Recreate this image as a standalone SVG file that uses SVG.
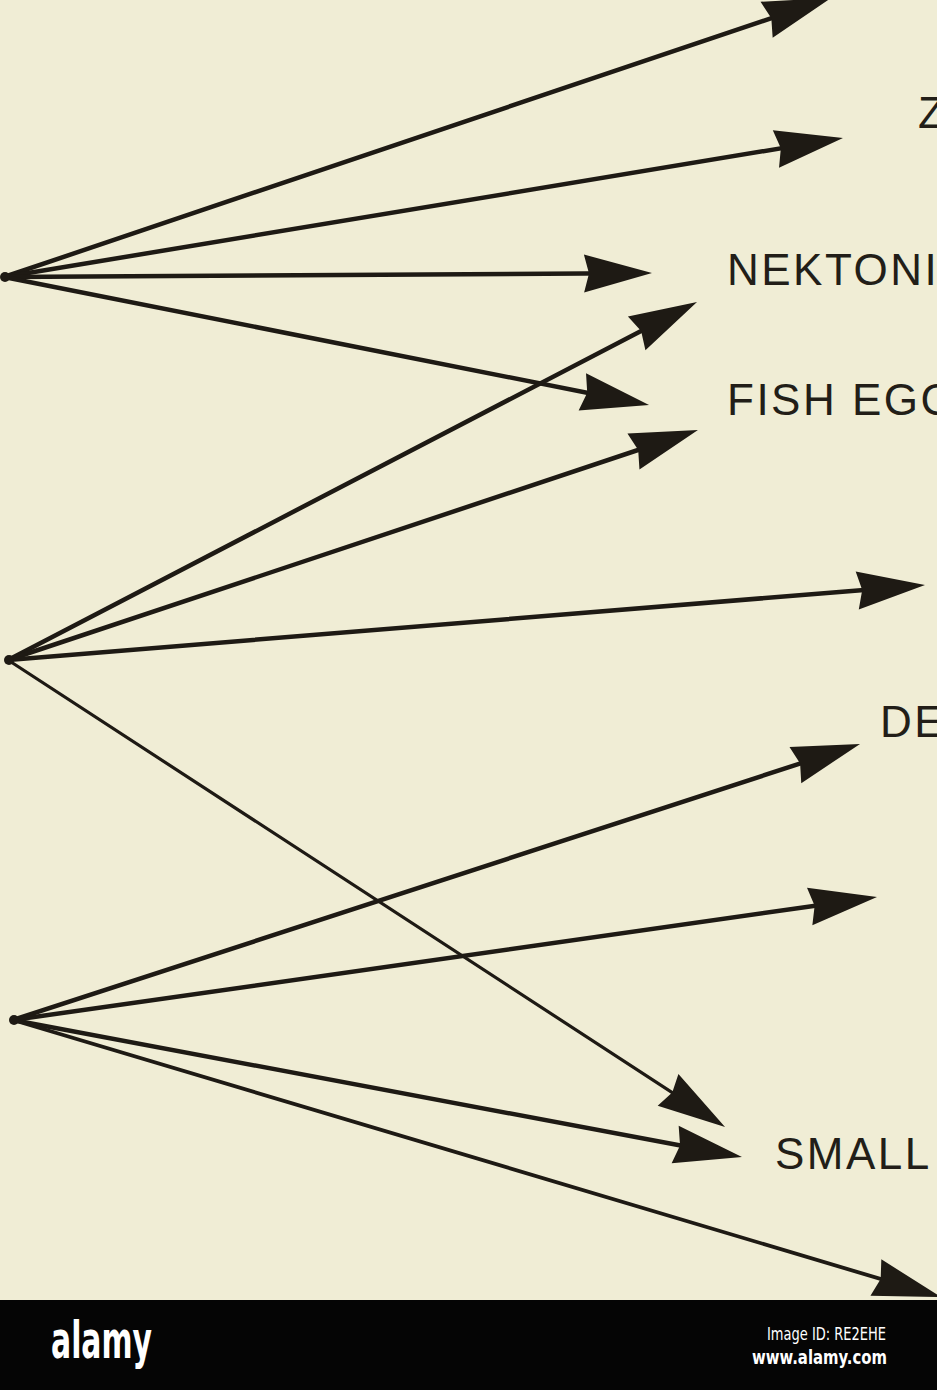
<svg xmlns="http://www.w3.org/2000/svg" width="937" height="1390" viewBox="0 0 937 1390">
  <style>
    .bg { fill: #f0edd5; }
    .edge { stroke: #1e1a14; stroke-width: 4.5; stroke-linecap: round; fill: none; marker-end: url(#head); }
    .thin { stroke-width: 3.2; }
    .lbl { font-family: "Liberation Sans", Arial, sans-serif; font-size: 44px; letter-spacing: 2.5px; fill: #221e18; }
    .src { fill: #1e1a14; }
    .bar { fill: #050505; }
    .logo { font-family: "DejaVu Sans Condensed", "DejaVu Sans", sans-serif; font-weight: bold; fill: #ffffff; }
    .meta { font-family: "DejaVu Sans Condensed", "DejaVu Sans", sans-serif; fill: #ffffff; }
  </style>
  <defs>
    <marker id="head" markerUnits="userSpaceOnUse" viewBox="-40 -22 72 44" refX="0" refY="0" markerWidth="72" markerHeight="44" orient="auto">
      <path d="M30,0 L-38,-19 L-33,0 L-38,19 Z" fill="#1e1a14"/>
    </marker>
  </defs>
  <rect class="bg" x="0" y="0" width="937" height="1390"/>

  <g id="connectors">
    <line class="edge" x1="4" y1="277" x2="802.6" y2="7.6"/>
    <line class="edge" x1="4" y1="277" x2="813.4" y2="142.9"/>
    <line class="edge" x1="4" y1="277" x2="622" y2="273.2"/>
    <line class="edge" x1="4" y1="277" x2="619.6" y2="399.2"/>
    <line class="edge" x1="8" y1="660" x2="670.4" y2="315.8"/>
    <line class="edge" x1="8" y1="660" x2="669.5" y2="439.5"/>
    <line class="edge" x1="8" y1="660" x2="895.1" y2="587.4"/>
    <line class="edge thin" x1="8" y1="660" x2="699.9" y2="1110.6"/>
    <line class="edge" x1="13" y1="1020" x2="831.5" y2="753.3"/>
    <line class="edge" x1="13" y1="1020" x2="847.3" y2="901.2"/>
    <line class="edge" x1="13" y1="1020" x2="712.5" y2="1151.5"/>
    <line class="edge" x1="13" y1="1020" x2="912.3" y2="1288.4" style="stroke-width:3.8"/>
  </g>

  <g id="source-1"><circle class="src" cx="5" cy="277" r="5"/></g>
  <g id="source-2"><circle class="src" cx="9" cy="660" r="5"/></g>
  <g id="source-3"><circle class="src" cx="14" cy="1020" r="5"/></g>

  <g id="label-z"><text class="lbl" x="918" y="128">Z</text></g>
  <g id="label-nektoni"><text class="lbl" x="727" y="285">NEKTONI</text></g>
  <g id="label-fish-egg"><text class="lbl" x="727" y="415">FISH EGG</text></g>
  <g id="label-de"><text class="lbl" x="880" y="737">DE</text></g>
  <g id="label-small"><text class="lbl" x="775" y="1169">SMALL</text></g>

  <g id="footer">
    <rect class="bar" x="0" y="1300" width="937" height="90"/>
    <text class="logo" x="51" y="1358" font-size="52" textLength="101" lengthAdjust="spacingAndGlyphs">alamy</text>
    <text class="meta" x="767" y="1340" font-size="17" textLength="119" lengthAdjust="spacingAndGlyphs">Image ID: RE2EHE</text>
    <text class="meta" x="752" y="1364" font-size="20" font-weight="bold" textLength="135" lengthAdjust="spacingAndGlyphs">www.alamy.com</text>
  </g>
</svg>
